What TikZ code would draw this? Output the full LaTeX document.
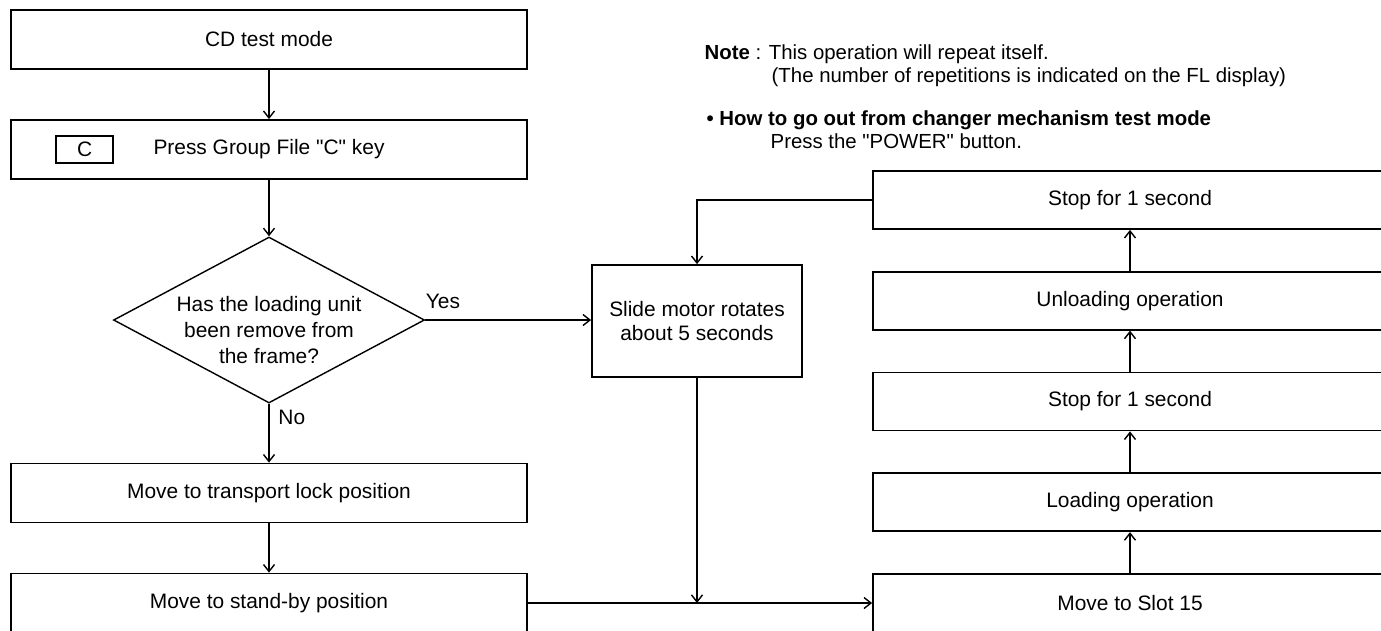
\documentclass[tikz,border=0pt]{standalone}
\usepackage{fontspec}
\setmainfont{Liberation Sans}[Ligatures=TeXOff]
\usepackage{tikz}
\usetikzlibrary{shapes.geometric, positioning, arrows.meta}
\tikzset{
    >={Straight Barb[length=1.4mm, width=2.2mm]}, % open arrow heads
    block/.style={draw, line width=1pt, minimum width=10.32cm, minimum height=1.18cm, inner sep=0pt}, % wide steps on the left
    rblock/.style={draw, line width=1pt, minimum width=10.28cm, minimum height=1.16cm, inner sep=0pt}, % steps of the loop on the right
    decision/.style={draw, diamond, aspect=1.87, inner sep=0pt, minimum width=6.22cm, minimum height=3.32cm},
    keybox/.style={draw, line width=1.2pt, minimum width=1.14cm, minimum height=0.54cm, inner sep=0pt}, % the key symbol
    note/.style={anchor=north west, inner sep=0pt, align=left, font=\fontsize{11.6}{13.2}\selectfont},
}

\begin{document}
\begin{tikzpicture}[line width=0.8pt, node distance=0.82cm, font=\fontsize{11.9}{14.2}\selectfont]
    \useasboundingbox (0,0) rectangle (27.62,-12.6);
    % left column
    \node[block] (cd) at (5.38,-0.79) {CD test mode};
    \node[block] (press) at (5.38,-2.99) {Press Group File "C" key};
    \node[keybox, right=0.9cm of press.west] (ckey) {C};
    \node[decision, label={[align=center, font=\fontsize{11.9}{14.8}\selectfont, yshift=-0.2cm]center:Has the loading unit\\been remove from\\the frame?}] (removed) at (5.38,-6.4) {};
    \node[block] (lock) at (5.38,-9.86) {Move to transport lock position};
    \node[block] (standby) at (5.38,-12.06) {Move to stand-by position};
    \node[draw, line width=1pt, minimum width=4.2cm, minimum height=2.24cm, align=center] (slide) at (13.94,-6.42) {Slide motor rotates\\about 5 seconds};
    % right column, from the bottom up
    \node[rblock] (slot) at (22.6,-12.06) {Move to Slot 15};
    \node[rblock, above=of slot] (loading) {Loading operation};
    \node[rblock, above=of loading] (stopa) {Stop for 1 second};
    \node[rblock, above=of stopa] (unloading) {Unloading operation};
    \node[rblock, above=of unloading] (stopb) {Stop for 1 second};
    % notes
    \node[note] (note) at (14.08,-0.88) {\textbf{Note} : This operation will repeat itself.\\\hspace*{1.34cm}(The number of repetitions is indicated on the FL display)};
    \node[note] (howto) at (14.12,-2.2) {\textbf{\textbullet\ How to go out from changer mechanism test mode}\\\hspace*{1.28cm}Press the "POWER" button.};
    % edges
    \draw[->] (cd) -- (press);
    \draw[->] (press) -- (removed);
    \draw[->] (removed.east) -- node[pos=0, anchor=south west, inner sep=2pt, yshift=4pt, xshift=-2pt] {Yes} (removed.east -| slide.west);
    \draw[->] (removed.south) -- node[pos=0, anchor=north west, inner sep=2pt, xshift=3pt, yshift=-1pt] {No} (lock);
    \draw[->] (lock) -- (standby);
    \coordinate (meet) at (slide.south |- standby.east);
    \draw[->] (standby.east) -- (slot.west);
    \draw[->] (slide) -- (meet);
    \draw[->] (slot) -- (loading);
    \draw[->] (loading) -- (stopa);
    \draw[->] (stopa) -- (unloading);
    \draw[->] (unloading) -- (stopb);
    \draw[->] (stopb.west) -| (slide.north);
\end{tikzpicture}
\end{document}
